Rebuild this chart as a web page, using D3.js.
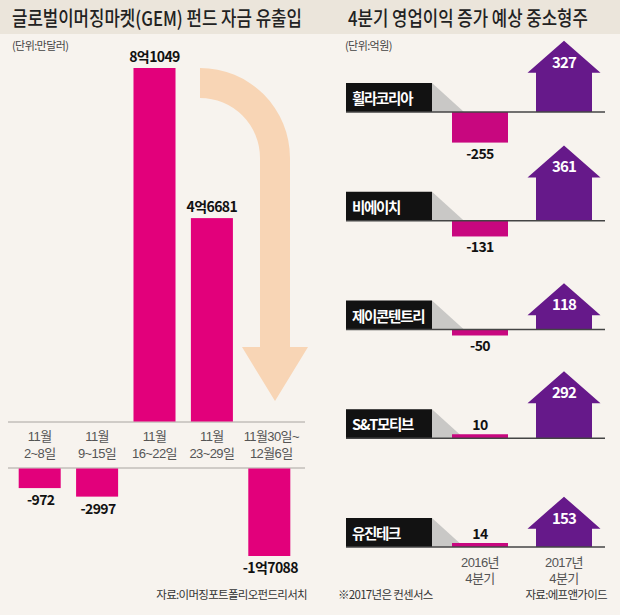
<!DOCTYPE html>
<html><head><meta charset="utf-8">
<script src="https://cdn.jsdelivr.net/npm/d3@7"></script>
<style>
html,body{margin:0;padding:0;background:#f7f3ee;}
svg{display:block;font-family:"Noto Sans CJK KR","Noto Sans",sans-serif;}
.tight{font-family:"Liberation Sans","Noto Sans CJK KR",sans-serif;}
</style></head>
<body>
<svg id="chart" width="620" height="615"></svg>
<script>
// ---- data ----
const weeks = [["11월","2~8일"],["11월","9~15일"],["11월","16~22일"],["11월","23~29일"],["11월30일~","12월6일"]];
const flows = [-972, -2997, 81049, 46681, -17088];
const flowLabels = ["-972","-2997","8억1049","4억6681","-1억7088"];

const companies = ["휠라코리아","비에이치","제이콘텐트리","S&T모티브","유진테크"];
const periods = [["2016년","4분기"],["2017년","4분기"]];
const q4_2016 = [-255, -131, -50, 10, 14];
const q4_2017 = [327, 361, 118, 292, 153];

// ---- setup ----
const svg = d3.select("#chart");
const W = 620, H = 615;
svg.append("rect").attr("width", W).attr("height", H).attr("fill", "#f7f3ee");
svg.append("rect").attr("width", W).attr("height", 34).attr("fill", "#ebe5db");

function squeezedTitle(x0, width, txt) {
  const t = svg.append("text").attr("x", 0).attr("y", 0).attr("font-size", 20).attr("font-weight", 500)
    .attr("fill", "#222").text(txt);
  const natural = t.node().getComputedTextLength();
  t.attr("transform", `translate(${x0},26) scale(${width / natural},1)`);
}
squeezedTitle(12, 290, "글로벌이머징마켓(GEM) 펀드 자금 유출입");
squeezedTitle(348, 240, "4분기 영업이익 증가 예상 중소형주");

svg.append("text").attr("x", 12).attr("y", 50).attr("font-size", 11).attr("fill", "#444")
  .attr("letter-spacing", -0.6).text("(단위:만달러)");
svg.append("text").attr("x", 345).attr("y", 50).attr("font-size", 11).attr("fill", "#444")
  .attr("letter-spacing", -0.6).text("(단위:억원)");

// ---- left chart ----
const x = d3.scaleBand().domain(d3.range(flows.length)).range([11, 298])
  .paddingInner(0.268).paddingOuter(0.134);
const upBase = 422, downBase = 468;
const yUp = d3.scaleLinear().domain([0, d3.max(flows)]).range([upBase, 68]);
const yDown = d3.scaleLinear().domain([0, d3.min(flows)]).range([484, 556]);

// decorative arrow
const ax = 200, acy = 158, rOut = 90, rIn = 60;
const stemL = ax + rIn, stemR = ax + rOut, stemC = (stemL + stemR) / 2;
const headTop = 347, tipY = 401, headHalf = 33;
const p = d3.path();
p.moveTo(ax, acy - rOut);
p.arc(ax, acy, rOut, -Math.PI / 2, 0);
p.lineTo(stemR, headTop);
p.lineTo(stemC + headHalf, headTop);
p.lineTo(stemC, tipY);
p.lineTo(stemC - headHalf, headTop);
p.lineTo(stemL, headTop);
p.lineTo(stemL, acy);
p.arc(ax, acy, rIn, 0, -Math.PI / 2, true);
p.closePath();
svg.append("path").attr("d", p.toString()).attr("fill", "#f8d5b5");

[upBase, downBase].forEach(y => {
  svg.append("line").attr("x1", 8).attr("x2", 305).attr("y1", y).attr("y2", y)
    .attr("stroke", "#a8a4a0").attr("stroke-width", 1);
});

const g = svg.append("g");
g.selectAll("rect.bar").data(flows).join("rect").attr("class", "bar")
  .attr("x", (d, i) => x(i)).attr("width", x.bandwidth())
  .attr("y", d => d > 0 ? yUp(d) : downBase + 0.5)
  .attr("height", d => d > 0 ? upBase - 0.5 - yUp(d) : yDown(d) - downBase - 0.5)
  .attr("fill", "#e2007b");

g.selectAll("text.val").data(flows).join("text").attr("class", "val")
  .attr("x", (d, i) => x(i) + x.bandwidth() / 2 + (d < 0 ? 1 : 0))
  .attr("y", d => d > 0 ? yUp(d) - 6 : yDown(d) + 17)
  .attr("text-anchor", "middle").attr("font-size", 14).attr("font-weight", 700)
  .attr("letter-spacing", -0.6).attr("fill", "#111")
  .text((d, i) => flowLabels[i]);

weeks.forEach((lines, i) => {
  const cx = x(i) + x.bandwidth() / 2 + (i === 4 ? 2 : 0);
  lines.forEach((s, j) => {
    g.append("text").attr("class", "tight").attr("x", cx).attr("y", 441 + j * 17)
      .attr("text-anchor", "middle").attr("font-size", 13).attr("letter-spacing", -0.6)
      .attr("fill", "#555").text(s);
  });
});

svg.append("text").attr("x", 307).attr("y", 599).attr("text-anchor", "end")
  .attr("font-size", 11.5).attr("letter-spacing", -0.7).attr("fill", "#333")
  .text("자료:이머징포트폴리오펀드리서치");

// ---- right chart ----
const rowY = d3.scalePoint().domain(companies).range([112, 547]);
const x2 = d3.scaleBand().domain(periods.map(p => p.join(" "))).range([452, 592]).paddingInner(1 / 3);
const hs = d3.scaleLinear().domain([0, d3.max(q4_2017)]).range([0, 43.3]);
const boxL = 346, boxR = 432, boxH = 29, headH = 32, headOver = 8.5;

const rows = svg.append("g").selectAll("g").data(companies).join("g")
  .attr("transform", d => `translate(0,${rowY(d)})`);

rows.append("rect").attr("x", boxL).attr("y", -boxH).attr("width", boxR - boxL).attr("height", boxH)
  .attr("fill", "#121212");
rows.append("path").attr("d", `M${boxR},${-boxH}L${boxR},0L${boxR + 32},0Z`).attr("fill", "#c9c8c6");
rows.append("text").attr("x", 352).attr("y", -8).attr("font-size", 14.5).attr("font-weight", 700)
  .attr("letter-spacing", -1.3).attr("fill", "#fff").text(d => d);

// 2016 bars
const b16 = periods[0].join(" "), b17 = periods[1].join(" ");
rows.append("rect")
  .attr("x", x2(b16)).attr("width", x2.bandwidth())
  .attr("y", (d, i) => q4_2016[i] < 0 ? 0 : -Math.max(hs(q4_2016[i]), 4))
  .attr("height", (d, i) => Math.max(hs(Math.abs(q4_2016[i])), 4))
  .attr("fill", "#c8077f");
rows.append("text")
  .attr("x", x2(b16) + x2.bandwidth() / 2)
  .attr("y", (d, i) => q4_2016[i] < 0 ? hs(-q4_2016[i]) + 16 : -Math.max(hs(q4_2016[i]), 4) - 4)
  .attr("text-anchor", "middle").attr("font-size", 14).attr("font-weight", 700)
  .attr("letter-spacing", -0.6).attr("fill", "#111")
  .text((d, i) => q4_2016[i] < 0 ? "-" + Math.abs(q4_2016[i]) : q4_2016[i]);

// 2017 house arrows
rows.append("path").attr("fill", "#66198a").attr("d", (d, i) => {
  const x0 = x2(b17), x1 = x0 + x2.bandwidth(), sh = -hs(q4_2017[i]);
  return `M${x0},0L${x0},${sh}L${x0 - headOver},${sh}L${(x0 + x1) / 2},${sh - headH}L${x1 + headOver},${sh}L${x1},${sh}L${x1},0Z`;
});
rows.append("text")
  .attr("x", x2(b17) + x2.bandwidth() / 2)
  .attr("y", (d, i) => -hs(q4_2017[i]) - 5)
  .attr("text-anchor", "middle").attr("font-size", 15).attr("font-weight", 700)
  .attr("letter-spacing", -0.9).attr("fill", "#fff")
  .text((d, i) => q4_2017[i]);

rows.append("line").attr("x1", boxL).attr("x2", 605).attr("y1", 0).attr("y2", 0)
  .attr("stroke", "#444").attr("stroke-width", 1.3);

// period labels
periods.forEach((lines, i) => {
  const key = lines.join(" ");
  const cx = x2(key) + x2.bandwidth() / 2;
  lines.forEach((s, j) => {
    svg.append("text").attr("class", "tight").attr("x", cx).attr("y", 567 + j * 16)
      .attr("text-anchor", "middle").attr("font-size", 13).attr("letter-spacing", -0.6)
      .attr("fill", "#555").text(s);
  });
});

svg.append("text").attr("x", 338).attr("y", 599).attr("font-size", 11.5).attr("letter-spacing", -0.7)
  .attr("fill", "#333").text("※2017년은 컨센서스");
svg.append("text").attr("x", 607).attr("y", 599).attr("text-anchor", "end").attr("font-size", 11.5)
  .attr("letter-spacing", -0.7).attr("fill", "#333").text("자료:에프앤가이드");
</script>
</body></html>
